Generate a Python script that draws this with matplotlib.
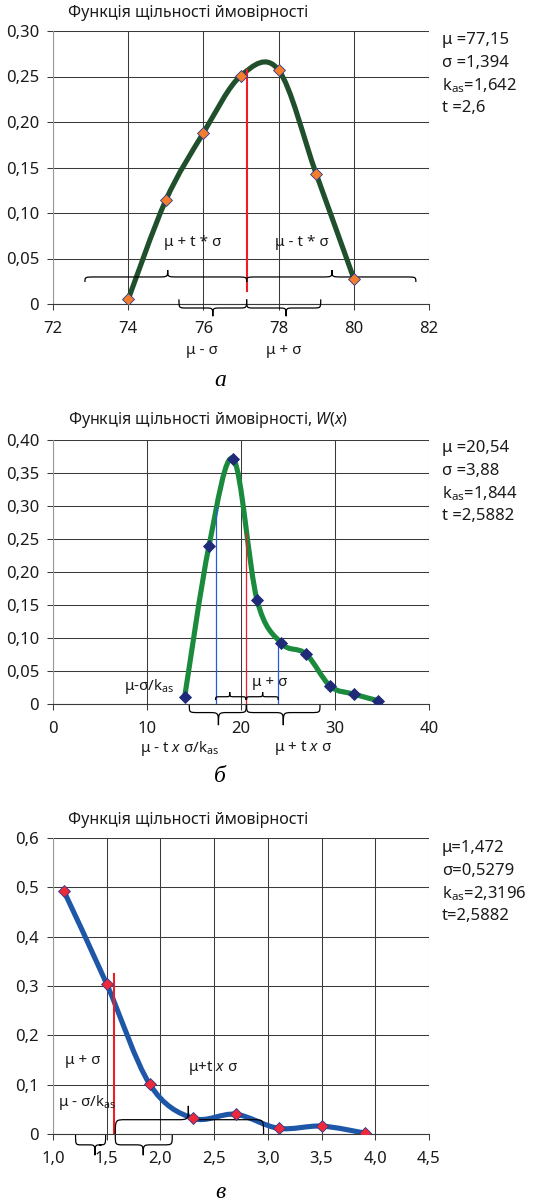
import numpy as np
import matplotlib
matplotlib.use("Agg")
import matplotlib.pyplot as plt
from matplotlib.path import Path
from matplotlib.patches import PathPatch

plt.rcParams['font.family'] = ['Noto Sans', 'DejaVu Sans']
plt.rcParams['mathtext.fontset'] = 'custom'
plt.rcParams['mathtext.rm'] = 'Noto Sans'
plt.rcParams['mathtext.it'] = 'Noto Sans:italic'
plt.rcParams['mathtext.bf'] = 'Noto Sans:bold'

# ---- data ----
xa = [74, 75, 76, 77, 78, 79, 80]
ya = [0.005, 0.114, 0.188, 0.251, 0.257, 0.143, 0.028]
xb = [14.0, 16.6, 19.2, 21.7, 24.3, 26.9, 29.5, 32.0, 34.6]
yb = [0.010, 0.240, 0.371, 0.158, 0.092, 0.076, 0.027, 0.015, 0.005]
xc = [1.1, 1.5, 1.9, 2.3, 2.7, 3.1, 3.5, 3.9]
yc = [0.493, 0.304, 0.101, 0.032, 0.040, 0.0115, 0.016, 0.002]

stats_a = ["μ =77,15", "σ =1,394", r"k$_\mathregular{as}$=1,642", "t =2,6"]
stats_b = ["μ =20,54", "σ =3,88", r"k$_\mathregular{as}$=1,844", "t =2,5882"]
stats_c = ["μ=1,472", "σ=0,5279", r"k$_\mathregular{as}$=2,3196", "t=2,5882"]

xt_a = [72, 74, 76, 78, 80, 82]
yt_a = [0, 0.05, 0.10, 0.15, 0.20, 0.25, 0.30]
ytl_a = ["0", "0,05", "0,10", "0,15", "0,20", "0,25", "0,30"]
xt_b = [0, 10, 20, 30, 40]
yt_b = [0, 0.05, 0.10, 0.15, 0.20, 0.25, 0.30, 0.35, 0.40]
ytl_b = ["0", "0,05", "0,10", "0,15", "0,20", "0,25", "0,30", "0,35", "0,40"]
xt_c = [1.0, 1.5, 2.0, 2.5, 3.0, 3.5, 4.0, 4.5]
xtl_c = ["1,0", "1,5", "2,0", "2,5", "3,0", "3,5", "4,0", "4,5"]
yt_c = [0, 0.1, 0.2, 0.3, 0.4, 0.5, 0.6]
ytl_c = ["0", "0,1", "0,2", "0,3", "0,4", "0,5", "0,6"]

W, H = 560, 1204
fig = plt.figure(figsize=(W / 100, H / 100), dpi=100)


def px(x, y):
    return x / W, 1 - y / H


def smooth_path(x, y):
    # Excel-style smoothed line: cubic bezier, control points from neighbours / 6
    p = np.column_stack([x, y]).astype(float)
    n = len(p)
    verts = [p[0]]
    codes = [Path.MOVETO]
    for i in range(n - 1):
        p0 = p[max(i - 1, 0)]
        p1 = p[i]
        p2 = p[i + 1]
        p3 = p[min(i + 2, n - 1)]
        verts += [p1 + (p2 - p0) / 6, p2 - (p3 - p1) / 6, p2]
        codes += [Path.CURVE4] * 3
    return Path(verts, codes)


def brace(ax, x1, x2, xt, yf, de, dt, r):
    ye, ytip = yf + de, yf + dt
    v = [(x1, ye), (x1, yf), (x1, yf), (x1 + r, yf),
         (xt - r, yf),
         (xt, yf), (xt, yf), (xt, ytip),
         (xt, yf), (xt, yf), (xt + r, yf),
         (x2 - r, yf),
         (x2, yf), (x2, yf), (x2, ye)]
    c = [Path.MOVETO] + [Path.CURVE4] * 3 + [Path.LINETO] + [Path.CURVE4] * 6 \
        + [Path.LINETO] + [Path.CURVE4] * 3
    ax.add_patch(PathPatch(Path(v, c), fill=False, lw=0.9, color='black',
                           clip_on=False, zorder=4))


def setup(rect, xlim, ylim, xt, yt, ytl, xtl=None):
    ax = fig.add_axes(rect)
    ax.set_xlim(*xlim)
    ax.set_ylim(*ylim)
    ax.set_xticks(xt)
    if xtl is not None:
        ax.set_xticklabels(xtl)
    ax.set_yticks(yt)
    ax.set_yticklabels(ytl)
    ax.grid(True, color='#3a3a3a', lw=0.75)
    ax.set_axisbelow(True)
    for s in ['top', 'right']:
        ax.spines[s].set_visible(False)
    ax.spines['left'].set_color('#9a9a9a')
    ax.spines['bottom'].set_color('#3a3a3a')
    ax.tick_params(direction='out', length=4, width=0.75, color='#3a3a3a',
                   labelsize=12, colors='#1a1a1a')
    ax.tick_params(axis='x', pad=8)
    ax.tick_params(axis='y', pad=6)
    return ax


def stats(lines, y0):
    for i, s in enumerate(lines):
        fig.text(*px(442, y0 + i * 22.7), s, fontsize=12, va='center',
                 ha='left', color='#1a1a1a')


title_kw = dict(fontsize=11.5, ha='left', va='center', color='#1a1a1a')
lab_kw = dict(fontsize=11, ha='center', va='center', color='#1a1a1a')
cap_kw = dict(fontsize=17, ha='center', va='center', style='italic',
              family='Liberation Serif')

# ---------- a ----------
ax = setup([53 / W, 1 - 304 / H, 376 / W, 273 / H], (72, 82), (0, 0.30),
           xt_a, yt_a, ytl_a)
ax.add_patch(PathPatch(smooth_path(xa, ya), fill=False, lw=3.7,
                       color='#1f4f2b', zorder=3))
ax.plot(xa, ya, 'D', ms=5.8, mfc='#f27d2d', mec='#2b3a8c', mew=0.6, zorder=5)
ax.plot([77.15, 77.15], [0.0145, 0.257], color='#ee1c25', lw=1.5, zorder=4)
brace(ax, 72.85, 77.15, 75.05, 0.0297, -0.0055, 0.0075, 0.28)
brace(ax, 77.15, 81.65, 79.42, 0.0297, -0.0055, 0.0075, 0.28)
brace(ax, 75.35, 77.15, 76.25, -0.0044, 0.0095, -0.009, 0.2)
brace(ax, 77.15, 79.12, 78.2, -0.0044, 0.0095, -0.009, 0.2)
fig.text(*px(68, 13), "Функція щільності ймовірності", **title_kw)
fig.text(*px(193, 243), "μ + t * σ", **lab_kw)
fig.text(*px(302, 243), "μ - t * σ", **lab_kw)
fig.text(*px(202, 350), "μ - σ", **lab_kw)
fig.text(*px(284, 350), "μ + σ", **lab_kw)
fig.text(*px(220, 380), "а", **cap_kw)
stats(stats_a, 40)

# ---------- b ----------
ax = setup([53 / W, 1 - 704 / H, 376 / W, 264 / H], (0, 40), (0, 0.40),
           xt_b, yt_b, ytl_b)
ax.add_patch(PathPatch(smooth_path(xb, yb), fill=False, lw=3.7,
                       color='#1a8a3c', zorder=3))
ax.plot(xb, yb, 'D', ms=5.8, mfc='#1f2a78', mec='#1f2a78', mew=0.6, zorder=5)
ax.plot([17.3, 17.3], [0, 0.299], color='#2a5bd7', lw=0.9, zorder=4)
ax.plot([23.95, 23.95], [0, 0.092], color='#2a5bd7', lw=0.9, zorder=4)
ax.plot([20.54, 20.54], [0, 0.259], color='#ee1c25', lw=0.9, zorder=4)
brace(ax, 17.3, 20.5, 18.8, 0.011, -0.005, 0.007, 0.5)
brace(ax, 20.6, 23.95, 22.3, 0.011, -0.005, 0.007, 0.5)
brace(ax, 14.5, 20.55, 17.6, -0.013, 0.0115, -0.019, 1.0)
brace(ax, 20.6, 28.4, 24.5, -0.013, 0.0115, -0.019, 1.0)
fig.text(*px(68, 420), r"Функція щільності ймовірності, $\mathit{W(x)}$", **title_kw)
fig.text(*px(149, 686), r"μ-σ/k$_\mathregular{as}$", **lab_kw)
fig.text(*px(270, 683), "μ + σ", **lab_kw)
fig.text(*px(180, 748), r"μ - t $\mathit{x}$ σ/k$_\mathregular{as}$", **lab_kw)
fig.text(*px(303, 748), r"μ + t $\mathit{x}$ σ", **lab_kw)
fig.text(*px(220, 777), "б", **cap_kw)
stats(stats_b, 448)

# ---------- c ----------
ax = setup([53 / W, 1 - 1134 / H, 376 / W, 296 / H], (1.0, 4.5), (0, 0.6),
           xt_c, yt_c, ytl_c, xtl_c)
ax.add_patch(PathPatch(smooth_path(xc, yc), fill=False, lw=3.7,
                       color='#1f57a8', zorder=3))
ax.plot(xc, yc, 'D', ms=5.8, mfc='#ee2a3a', mec='#2b3a8c', mew=0.6, zorder=5)
ax.plot([1.57, 1.57], [0, 0.324], color='#ee1c25', lw=1.5, zorder=4)
brace(ax, 1.21, 1.49, 1.39, -0.022, 0.020, -0.021, 0.06)
brace(ax, 1.58, 2.11, 1.84, -0.022, 0.020, -0.021, 0.08)
brace(ax, 1.58, 2.96, 2.26, 0.029, -0.029, 0.028, 0.1)
fig.text(*px(68, 820), "Функція щільності ймовірності", **title_kw)
fig.text(*px(83, 1060), "μ + σ", **lab_kw)
fig.text(*px(87, 1102), r"μ - σ/k$_\mathregular{as}$", **lab_kw)
fig.text(*px(213, 1068), r"μ+t $\mathit{x}$ σ", **lab_kw)
fig.text(*px(220, 1193), "в", **cap_kw)
stats(stats_c, 848)

fig.savefig("out.png", dpi=100)
